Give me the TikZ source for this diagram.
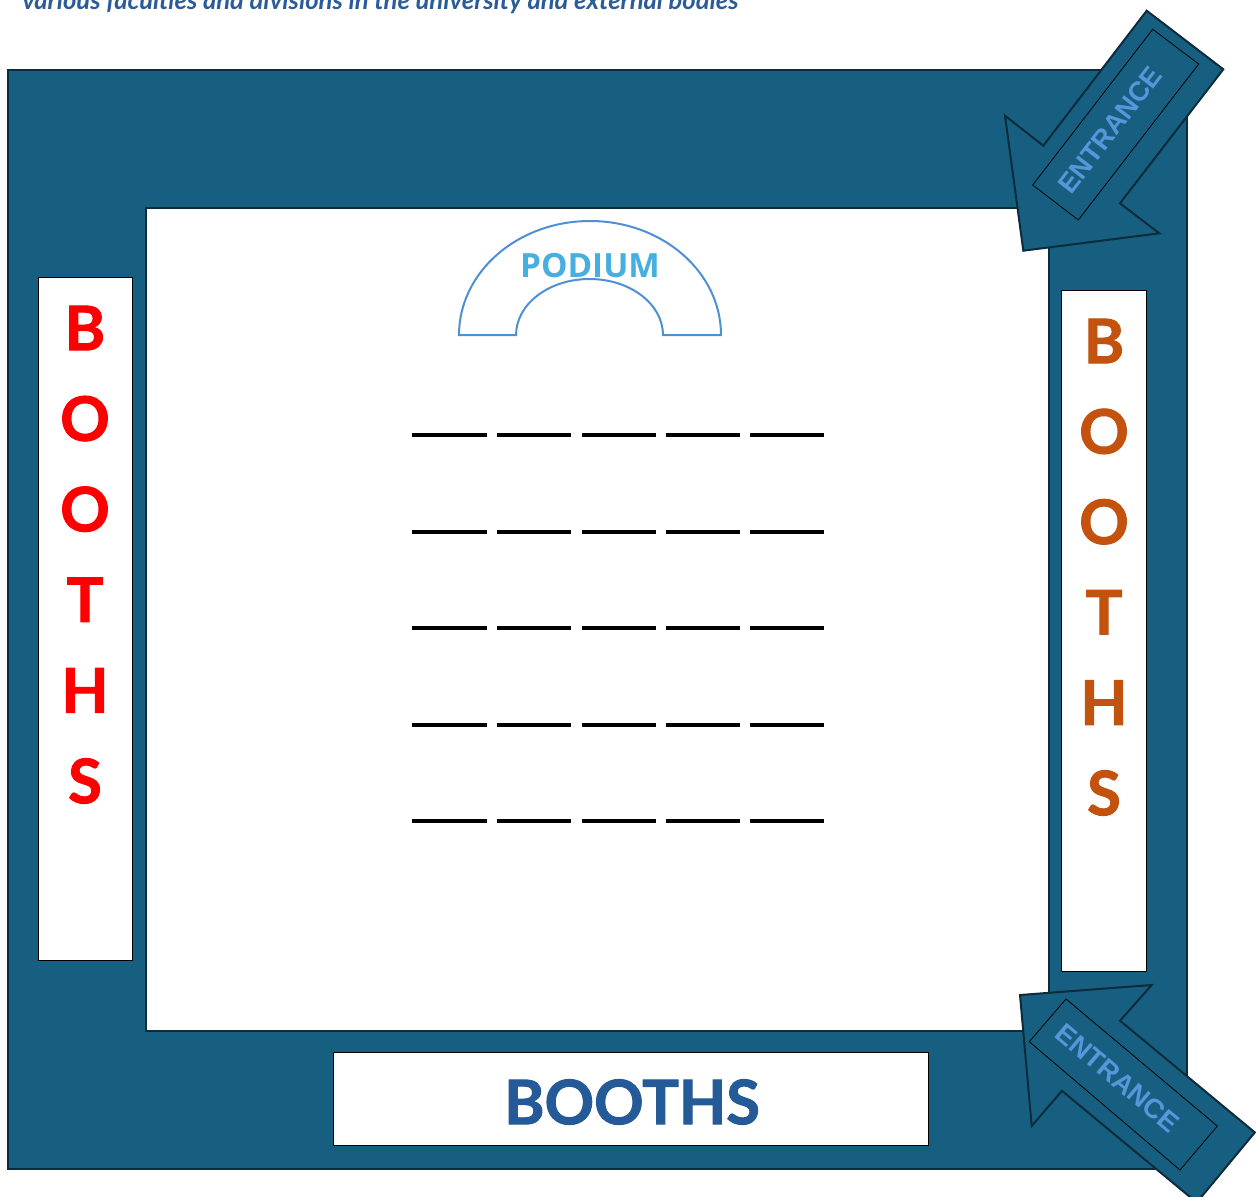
\documentclass[tikz,border=0pt]{standalone}
\usepackage{fontspec}
\setmainfont{Lato}
\newfontfamily\boothf[BoldFeatures={FakeBold=1.6}]{Lato}
\newfontfamily\arialf{Liberation Sans}
\newfontfamily\podf{Open Sans}
\definecolor{hall}{HTML}{175F80}
\definecolor{hallline}{HTML}{0C2B3B}
\definecolor{titleblue}{HTML}{2A5C9A}
\definecolor{boothred}{HTML}{FF0000}
\definecolor{boothorange}{HTML}{C4520F}
\definecolor{boothblue}{HTML}{245A98}
\definecolor{podline}{HTML}{4F8FD6}
\definecolor{podtext}{HTML}{47AEE0}
\definecolor{enttext}{HTML}{5497DA}
\tikzset{
  hallshape/.style={draw=hallline, fill=hall, line width=1.5pt},
  boothbox/.style={draw=black, fill=white, line width=0.75pt, inner sep=0, outer sep=0},
  boothletter/.style={font=\boothf\bfseries\fontsize{46}{50}\selectfont, inner sep=0},
  entbox/.style={draw=black, line width=0.6pt},
  enttxt/.style={text=enttext, font=\arialf\bfseries\fontsize{20.5}{22}\selectfont, inner sep=0},
  seat/.style={line width=2.4pt, black},
}
\begin{document}
\begin{tikzpicture}[x=0.75pt,y=-0.75pt]
\useasboundingbox (0,0) rectangle (1256,1196);
\clip (0,0) rectangle (1256,1196);
% title (cut at top)
\node[anchor=base west, text=titleblue, font=\bfseries\itshape\fontsize{19.2}{21}\selectfont, inner sep=0] (title) at (22,9) {various faculties and divisions in the university and external bodies};
% hall
\draw[hallshape] (8,70) rectangle (1187,1169);
\draw[draw=hallline, fill=white, line width=1.5pt] (146,208) rectangle (1049,1031);
% booths
\draw[boothbox] (38,277) rectangle (132,960);
\draw[boothbox] (1061,290) rectangle (1146,971);
\draw[boothbox] (333,1052) rectangle (928,1145);
\foreach \l [count=\i from 0] in {B,O,O,T,H,S}{
  \node[boothletter, text=boothred] (L\i) at (85,{328+90.6*\i}) {\l};
  \node[boothletter, text=boothorange] (R\i) at (1104,{341+90.4*\i}) {\l};
}
\node[boothletter, text=boothblue] (bottombooths) at (632,1102) {BOOTHS};
% podium
\draw[podline, line width=1.5pt] (459,335) arc[start angle=180, end angle=0, x radius=98.25pt, y radius=85.5pt]
  -- (663,335) arc[start angle=0, end angle=180, x radius=55.1pt, y radius=42pt] -- cycle;
\node[text=podtext, font=\podf\bfseries\fontsize{25}{28}\selectfont, inner sep=0] (podium) at (590,266) {PODIUM};
% seats
\foreach \y in {435,532,628,725,821}{
  \foreach \a/\b in {412/487,497/571,582/656,666/740,750/824}{
    \draw[seat] (\a,\y) -- (\b,\y);
  }
}
% top entrance arrow
\draw[hallshape, line join=miter] (1146.7,10.7) -- (1223.3,69.3) -- (1120,203.3) -- (1159.3,233.3) -- (1023.3,250.7) -- (1005,115.7) -- (1043.3,145.7) -- cycle;
\draw[entbox] (1152.7,29.3) -- (1198.7,64) -- (1078.3,220) -- (1032.7,185) -- cycle;
\node[enttxt, rotate=52.3] (ent1) at (1110,130) {ENTRANCE};
% bottom entrance arrow
\draw[hallshape, line join=miter] (1020,995) -- (1151.7,985) -- (1120,1020.7) -- (1254.8,1132.4) -- (1196.7,1202.5) -- (1061.9,1090.8) -- (1031.7,1126) -- cycle;
\draw[entbox] (1066,999) -- (1217.3,1126) -- (1180,1170) -- (1029.3,1041.7) -- cycle;
\node[enttxt, rotate=-40] (ent2) at (1117.5,1078) {ENTRANCE};
\end{tikzpicture}
\end{document}
